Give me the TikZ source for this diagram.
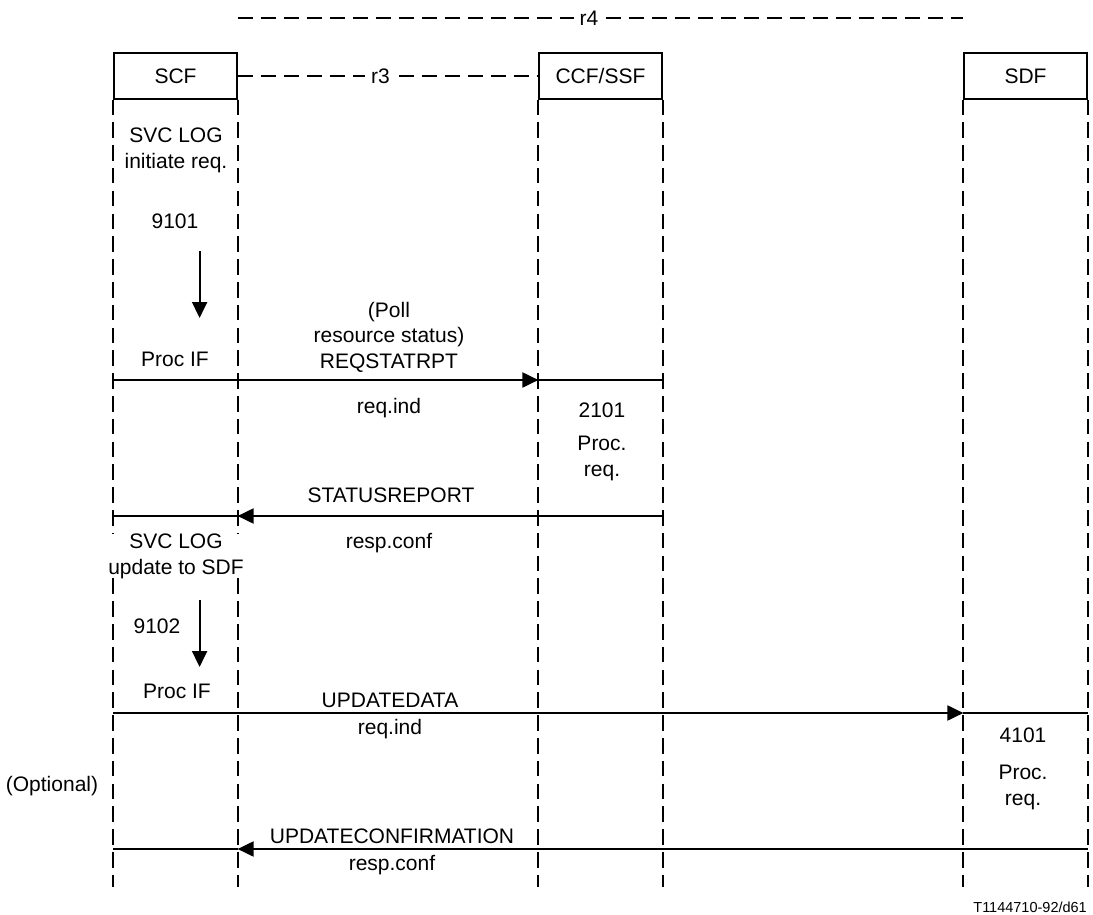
\documentclass[tikz,border=0pt]{standalone}
\usepackage{fontspec}
\setmainfont{Liberation Sans}
\usetikzlibrary{arrows.meta,positioning,calc}
\definecolor{ink}{HTML}{000000}
\definecolor{paper}{HTML}{FFFFFF}

\tikzset{
  entity/.style={draw=ink, line width=1.2pt, minimum width=123pt, minimum height=46pt, inner sep=0pt, text=ink},
  lifeline/.style={draw=ink, line width=2pt, dash pattern=on 15.5pt off 7.3pt},
  relation/.style={draw=ink, line width=2pt, dash pattern=on 15.5pt off 7.5pt},
  msg/.style={draw=ink, line width=2pt},
  msgtip/.style={-{Triangle[length=16pt,width=15pt]}},
  lbl/.style={inner sep=0pt, text=ink, align=center, anchor=base}
}

\begin{document}
\begin{tikzpicture}[x=1pt, y=-1pt, font=\fontsize{21}{25.5}\selectfont]
\useasboundingbox[fill=paper] (0,0) rectangle (1093,915);

\node[entity] (scf) at (175.5,76) {SCF};
\node[entity] (ccf) at (600.5,76) {CCF/SSF};
\node[entity] (sdf) at (1025.5,76) {SDF};

\foreach \b in {scf,ccf,sdf} {
  \coordinate (\b-wend) at (\b.south west |- 0,887);
  \coordinate (\b-eend) at (\b.south east |- 0,887);
  \draw[lifeline] (\b.south west) -- (\b-wend);
  \draw[lifeline] (\b.south east) -- (\b-eend);
}

\draw[relation] (scf.east) -- node[lbl, anchor=center, pos=0.475, fill=paper, inner xsep=6pt, inner ysep=2pt] (r3) {r3} (ccf.west);
\coordinate (r4a) at (scf.east |- 0,18);
\coordinate (r4b) at (sdf.west |- 0,18);
\draw[relation] (r4a) -- node[lbl, anchor=center, pos=0.484, fill=paper, inner xsep=6pt, inner ysep=2pt] (r4) {r4} (r4b);

\node[lbl] (svc1) at (176,168) {SVC LOG\\initiate req.};
\node[lbl] (n9101) at (175,229) {9101};
\coordinate (d1s) at (199.6,251);
\coordinate (d1e) at (199.6,318);
\draw[msg, msgtip] (d1s) -- (d1e);
\node[lbl] (proc1) at (175,366) {Proc IF};

\node[lbl] (poll) at (389,368) {(Poll\\resource status)\\REQSTATRPT};
\coordinate (m1s) at (scf.west |- 0,380);
\coordinate (m1t) at (ccf.west |- 0,380);
\coordinate (m1e) at (ccf.east |- 0,380);
\draw[msg, msgtip] (m1s) -- (m1t);
\draw[msg] (m1t) -- (m1e);
\node[lbl] (ind1) at (389,413) {req.ind};
\node[lbl] (n2101) at (602,417) {2101};
\node[lbl] (preq1) at (602,476) {Proc.\\req.};

\node[lbl] (stat) at (391,502) {STATUSREPORT};
\coordinate (m2s) at (ccf.east |- 0,516);
\coordinate (m2t) at (scf.east |- 0,516);
\coordinate (m2e) at (scf.west |- 0,516);
\draw[msg, msgtip] (m2s) -- (m2t);
\draw[msg] (m2t) -- (m2e);
\node[lbl] (conf1) at (389,548) {resp.conf};

\node[lbl, fill=paper] (svc2) at (176,574) {SVC LOG\\update to SDF};
\node[lbl] (n9102) at (157,633) {9102};
\coordinate (d2s) at (199.6,600);
\coordinate (d2e) at (199.6,667);
\draw[msg, msgtip] (d2s) -- (d2e);
\node[lbl] (proc2) at (177,698) {Proc IF};

\node[lbl] (upd) at (390,707) {UPDATEDATA};
\coordinate (m3s) at (scf.west |- 0,713);
\coordinate (m3t) at (sdf.west |- 0,713);
\coordinate (m3e) at (sdf.east |- 0,713);
\draw[msg, msgtip] (m3s) -- (m3t);
\draw[msg] (m3t) -- (m3e);
\node[lbl] (ind2) at (390,734) {req.ind};
\node[lbl] (n4101) at (1023,742) {4101};
\node[lbl] (preq2) at (1023,805) {Proc.\\req.};
\node[lbl] (opt) at (52,791) {(Optional)};

\node[lbl] (updc) at (392,843) {UPDATECONFIRMATION};
\coordinate (m4s) at (sdf.east |- 0,849);
\coordinate (m4t) at (scf.east |- 0,849);
\coordinate (m4e) at (scf.west |- 0,849);
\draw[msg, msgtip] (m4s) -- (m4t);
\draw[msg] (m4t) -- (m4e);
\node[lbl] (conf2) at (392,870) {resp.conf};

\node[lbl, anchor=base east, font=\fontsize{14.5}{17}\selectfont] (fig) at (1087,912) {T1144710-92/d61};
\end{tikzpicture}
\end{document}
